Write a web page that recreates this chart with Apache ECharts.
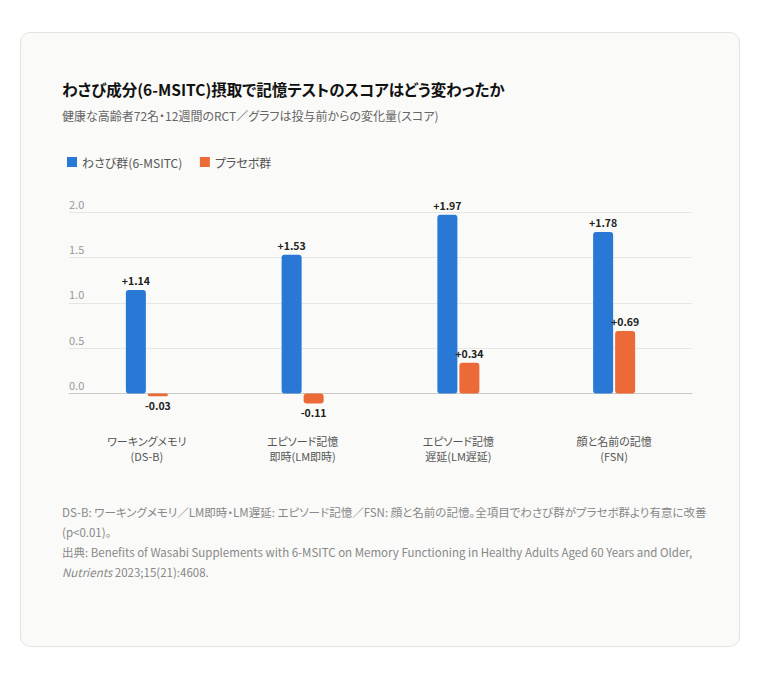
<!DOCTYPE html>
<html lang="ja">

<head>
  <meta charset="UTF-8">
  <title>わさび成分(6-MSITC)摂取で記憶テストのスコアはどう変わったか</title>
  <script src="https://cdn.jsdelivr.net/npm/echarts@6/dist/echarts.min.js"></script>
  <style>
    html,
    body {
      margin: 0;
      padding: 0;
      width: 760px;
      height: 680px;
      background: #ffffff;
      font-family: "Noto Sans CJK JP", "Noto Sans", sans-serif;
      font-feature-settings: "palt";
    }

    .card {
      position: absolute;
      left: 20px;
      top: 32px;
      width: 720px;
      height: 615px;
      box-sizing: border-box;
      border: 1px solid #e4e4df;
      border-radius: 10px;
      background: #fafaf8;
    }

    .title {
      position: absolute;
      left: 41px;
      top: 45px;
      font-size: 15.5px;
      line-height: 22px;
      font-weight: bold;
      color: #111;
    }

    .subtitle {
      position: absolute;
      left: 41px;
      top: 74px;
      font-size: 12px;
      line-height: 18px;
      color: #666;
    }

    #chart {
      position: absolute;
      left: 0;
      top: 110px;
      width: 718px;
      height: 350px;
    }

    .note {
      position: absolute;
      left: 41px;
      top: 469px;
      width: 652px;
      font-size: 11.5px;
      line-height: 20px;
      color: #888;
    }

    .note p {
      margin: 0;
    }
  </style>
</head>

<body>
  <div class="card">
    <div class="title">わさび成分(6-MSITC)摂取で記憶テストのスコアはどう変わったか</div>
    <div class="subtitle">健康な高齢者72名・12週間のRCT／グラフは投与前からの変化量(スコア)</div>
    <div id="chart"></div>
    <div class="note">
      <p>DS-B: ワーキングメモリ／LM即時・LM遅延: エピソード記憶／FSN: 顔と名前の記憶。全項目でわさび群がプラセボ群より有意に改善(p&lt;0.01)。</p>
      <p>出典: Benefits of Wasabi Supplements with 6-MSITC on Memory Functioning in Healthy Adults Aged 60 Years and Older, <i>Nutrients</i> 2023;15(21):4608.</p>
    </div>
  </div>

  <script>
    // カテゴリ（軸ラベル）
    const categories = [
      'ワーキングメモリ\n(DS-B)',
      'エピソード記憶\n即時(LM即時)',
      'エピソード記憶\n遅延(LM遅延)',
      '顔と名前の記憶\n(FSN)'
    ];
    const seriesNames = ['わさび群(6-MSITC)', 'プラセボ群'];
    const wasabiValues = [1.14, 1.53, 1.97, 1.78];
    const placeboValues = [-0.03, -0.11, 0.34, 0.69];

    // SVG で描くと CSS の palt がテキストに効く
    const chart = echarts.init(document.getElementById('chart'), null, { renderer: 'svg' });

    const fmt = (v) => (v > 0 ? '+' : '') + v.toFixed(2);

    // 負の値はラベルを棒の下に
    const toItems = (values) => values.map((v) => ({
      value: v,
      label: { position: v < 0 ? 'bottom' : 'top' }
    }));

    const barLabel = {
      show: true,
      distance: 4,
      fontSize: 10.5,
      fontWeight: 'bold',
      color: '#222',
      formatter: (p) => fmt(p.value)
    };

    const option = {
      textStyle: { fontFamily: '"Noto Sans CJK JP", "Noto Sans", sans-serif' },
      animation: false,
      legend: {
        left: 41,
        top: 8,
        icon: 'rect',
        itemWidth: 10,
        itemHeight: 10,
        itemGap: 16,
        textStyle: { fontSize: 12, color: '#555' },
        data: seriesNames
      },
      grid: { left: 48, right: 47, top: 69, bottom: 54, containLabel: false, outerBoundsMode: 'none' },
      xAxis: {
        type: 'category',
        data: categories,
        axisLine: { onZero: true, lineStyle: { color: '#c8c8c4' } },
        axisTick: { show: false },
        axisLabel: { margin: -6, fontSize: 11, color: '#555', lineHeight: 15 }
      },
      yAxis: {
        type: 'value',
        min: -0.5,
        max: 2,
        interval: 0.5,
        axisLine: { show: false },
        axisTick: { show: false },
        axisLabel: {
          inside: true,
          margin: 0,
          verticalAlign: 'bottom',
          padding: [0, 0, 3, 0],
          fontSize: 11,
          color: '#999',
          formatter: (v) => (v < 0 ? '' : v.toFixed(1))
        },
        splitLine: {
          lineStyle: {
            color: ['rgba(0,0,0,0)', '#e6e6e2', '#e6e6e2', '#e6e6e2', '#e6e6e2', '#e6e6e2']
          }
        }
      },
      series: [
        {
          name: seriesNames[0],
          type: 'bar',
          data: toItems(wasabiValues),
          barWidth: 20,
          barGap: '10%',
          itemStyle: { color: '#2a78d6', borderRadius: 3 },
          label: barLabel
        },
        {
          name: seriesNames[1],
          type: 'bar',
          data: toItems(placeboValues),
          barWidth: 20,
          itemStyle: { color: '#ec6a37', borderRadius: 3 },
          label: barLabel
        }
      ]
    };

    chart.setOption(option);
  </script>
</body>

</html>
